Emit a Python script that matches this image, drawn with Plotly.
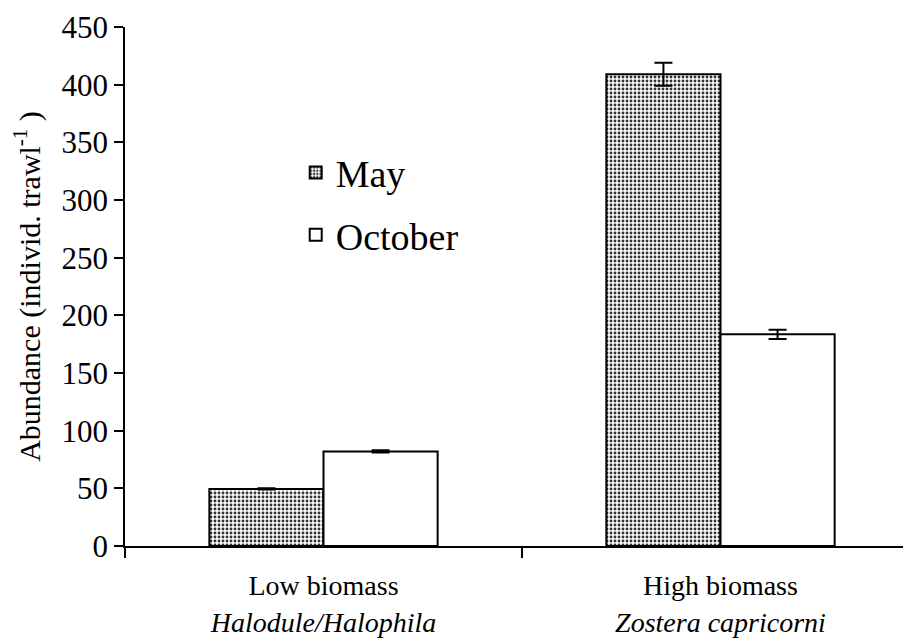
import plotly.graph_objects as go

categories = ["Low biomass<br><i>Halodule/Halophila</i>", "High biomass<br><i>Zostera capricorni</i>"]
may_values = [49.5, 409]
may_errors = [0.5, 10]
oct_values = [82, 183.5]
oct_errors = [1, 4]
y_ticks = [0, 50, 100, 150, 200, 250, 300, 350, 400, 450]

FONT = "Liberation Serif"

fig = go.Figure()
fig.add_trace(go.Bar(
    name="May", x=categories, y=may_values, legendgroup="may",
    marker=dict(color="white", line=dict(color="black", width=2),
                pattern=dict(shape=".", size=4, solidity=0.4, fgcolor="#333333", bgcolor="white", fillmode="replace")),
    error_y=dict(type="data", array=may_errors, visible=True, color="black", thickness=2, width=9),
))
fig.add_trace(go.Bar(
    name="October", x=categories, y=oct_values, legendgroup="oct",
    marker=dict(color="white", line=dict(color="black", width=2)),
    error_y=dict(type="data", array=oct_errors, visible=True, color="black", thickness=2, width=9),
))

fig.update_layout(
    width=911, height=642,
    margin=dict(l=117, r=0, t=19, b=104),
    paper_bgcolor="white", plot_bgcolor="white",
    barmode="group", bargap=0.425, bargroupgap=0,
    font=dict(family=FONT, color="black", size=30),
    showlegend=True,
    legend=dict(x=0.215, y=0.78, xanchor="left", yanchor="top",
                font=dict(family=FONT, size=38, color="black"),
                bgcolor="rgba(0,0,0,0)", tracegroupgap=10, itemwidth=30),
)
fig.update_xaxes(
    type="category", range=[-0.5, 1.5],
    showline=True, linecolor="black", linewidth=1.5,
    ticks="outside", tickson="boundaries", ticklen=10, tickcolor="black", tickwidth=1.5,
    tickfont=dict(family=FONT, size=28, color="black"),
    ticklabelstandoff=14, ticklabeloverflow="allow",
    showgrid=False, zeroline=False, automargin=False,
)
fig.update_yaxes(
    range=[0, 450], tickvals=y_ticks,
    showline=True, linecolor="black", linewidth=1.5,
    ticks="outside", ticklen=9, tickcolor="black", tickwidth=1.5,
    tickfont=dict(family=FONT, size=31, color="black"),
    ticklabeloverflow="allow",
    showgrid=False, zeroline=False, automargin=False,
    title=dict(text="Abundance (individ. trawl<sup>-1</sup> )", font=dict(family=FONT, size=30, color="black"), standoff=12),
)

fig.write_html("out.html")
